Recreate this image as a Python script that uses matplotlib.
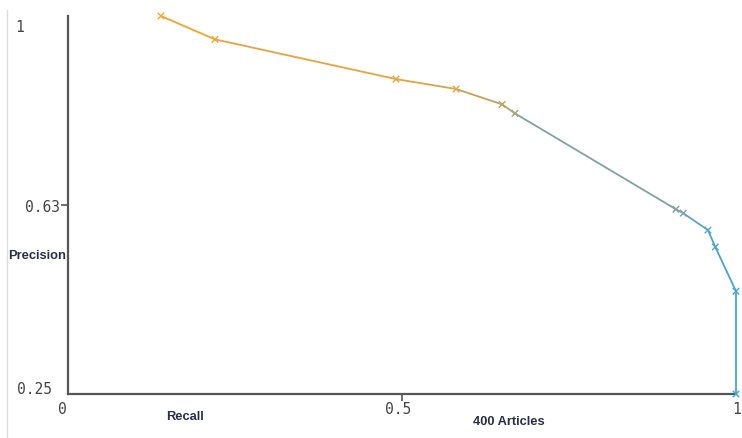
import matplotlib
matplotlib.use("Agg")
import matplotlib.pyplot as plt
from matplotlib.collections import LineCollection
from matplotlib.lines import Line2D
import numpy as np

recall = [0.139, 0.220, 0.491, 0.581, 0.650, 0.669, 0.910, 0.921, 0.958, 0.969, 1.0, 1.0]
precision = [1.011, 0.964, 0.884, 0.864, 0.833, 0.815, 0.622, 0.614, 0.580, 0.546, 0.457, 0.25]
point_colors = ['#f5a623', '#f3a52a', '#eaa43a', '#e0a444', '#c9a05a', '#a9a576',
                '#7fa3a0', '#79a3ab', '#5aa3cf', '#4aa3db', '#3fa5e6', '#3fa5e6']
xticks = [0, 0.5, 1]
xticklabels = ['0', '0.5', '1']
yticks = [0.25, 0.63, 1]
yticklabels = ['0.25', '0.63', '1']

fig = plt.figure(figsize=(7.42, 4.38), dpi=100)
W, H = 742, 438
ax = fig.add_axes([68 / W, (H - 394) / H, 668 / W, (394 - 16) / H])
ax.set_xlim(0, 1)
ax.set_ylim(0.25, 1.011)

pts = np.column_stack([recall, precision])
segs = np.stack([pts[:-1], pts[1:]], axis=1)
lc = LineCollection(segs, colors=point_colors[1:], linewidths=1.3, clip_on=False, zorder=3)
ax.add_collection(lc)
ax.scatter(recall, precision, marker='x', s=22, c=point_colors, linewidths=1.0, clip_on=False, zorder=4)

for s in ['top', 'right']:
    ax.spines[s].set_visible(False)
for s in ['left', 'bottom']:
    ax.spines[s].set_color('#555555')
    ax.spines[s].set_linewidth(1.6)

ax.set_xticks(xticks)
ax.set_xticklabels([])
ax.set_yticks(yticks)
ax.set_yticklabels([])
ax.tick_params(axis='both', length=5, width=1.2, color='#555555')
for i in (0, 2):
    ax.yaxis.get_major_ticks()[i].tick1line.set_visible(False)
    ax.xaxis.get_major_ticks()[i].tick1line.set_visible(False)

mono = dict(family='DejaVu Sans Mono', fontsize=10.5, color='#444444', va='center')
# y tick labels (placed like the reference)
ylab_pos = {'1': (15, 28, 'left'), '0.63': (60, 207, 'right'), '0.25': (52, 390, 'right')}
for t in yticklabels:
    px, py, ha = ylab_pos[t]
    fig.text(px / W, 1 - py / H, t, ha=ha, **mono)
xlab_pos = {'0': (62, 'center'), '0.5': (398, 'center'), '1': (741, 'right')}
for t in xticklabels:
    px, ha = xlab_pos[t]
    fig.text(px / W, 1 - 410 / H, t, ha=ha, **mono)

lab = dict(fontsize=9.3, fontweight='bold', color='#2a2c4c', family='Liberation Sans')
fig.text(8 / W, 1 - 256 / H, 'Precision', ha='left', va='center', **lab)
fig.text(185 / W, 1 - 417 / H, 'Recall', ha='center', va='center', **lab)
fig.text(509 / W, 1 - 422 / H, '400 Articles', ha='center', va='center', **lab)

fig.add_artist(Line2D([7 / W, 7 / W], [0, 1 - 10 / H], color='#dddddd', linewidth=1))

fig.savefig('out.png', dpi=100)
